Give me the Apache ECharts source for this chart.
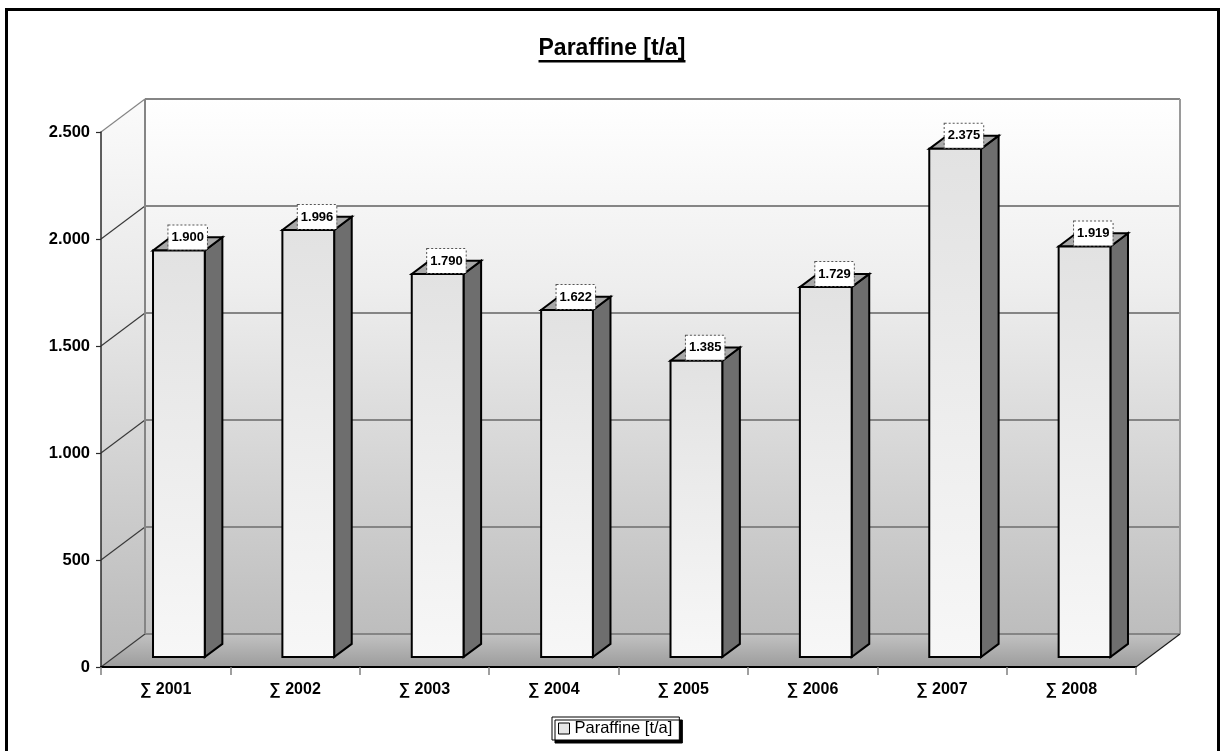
<!DOCTYPE html>
<html>
<head>
<meta charset="utf-8">
<title>Paraffine [t/a]</title>
<script src="https://cdn.jsdelivr.net/npm/echarts@6/dist/echarts.min.js"></script>
<style>
  html, body { margin: 0; padding: 0; background: #ffffff; }
  #chart { width: 1222px; height: 751px; }
</style>
</head>
<body>
<div id="chart"></div>
<script>
// ---- data ----
const chartTitle = 'Paraffine [t/a]';
const categories = ['∑ 2001', '∑ 2002', '∑ 2003', '∑ 2004', '∑ 2005', '∑ 2006', '∑ 2007', '∑ 2008'];
const values = [1900, 1996, 1790, 1622, 1385, 1729, 2375, 1919];
const yTicks = [0, 500, 1000, 1500, 2000, 2500];

// ---- styling ----
const FONT = "'Liberation Sans', Arial, Helvetica, sans-serif";
const DEPTH = [44, -33];          // on-screen offset of the back of the plot box
const BAR_FRONT = 0.3;            // bar front face, as a share of the depth
const BAR_BACK = 0.7;             // bar back face, as a share of the depth
const BAR_WIDTH = 0.4;            // bar width, as a share of the category band

// thousands separator as a dot: 2500 -> "2.500"
function fmt(v) {
  return String(v).replace(/\B(?=(\d{3})+(?!\d))/g, '.');
}

function vGrad(stops) {
  return new echarts.graphic.LinearGradient(0, 0, 0, 1,
    stops.map(function (s) { return { offset: s[0], color: s[1] }; }));
}

// back wall, side wall, floor and their gridlines
function renderWalls(params, api) {
  const band = api.size([1, 0])[0];
  const first = api.coord([0, yTicks[0]]);
  const last = api.coord([categories.length - 1, yTicks[0]]);
  const x0 = first[0] - band / 2;
  const x1 = last[0] + band / 2;
  const yb = first[1];
  const yt = api.coord([0, yTicks[yTicks.length - 1]])[1];
  const dx = DEPTH[0], dy = DEPTH[1];
  const children = [];

  children.push({
    type: 'rect',
    shape: { x: x0 + dx, y: yt + dy, width: x1 - x0, height: yb - yt },
    style: { fill: vGrad([[0, '#ffffff'], [0.35, '#eeeeee'], [1, '#bdbdbd']]) }
  });
  children.push({
    type: 'polygon',
    shape: { points: [[x0, yb], [x0, yt], [x0 + dx, yt + dy], [x0 + dx, yb + dy]] },
    style: { fill: vGrad([[0, '#fbfbfb'], [0.35, '#e8e8e8'], [1, '#b8b8b8']]) }
  });
  children.push({
    type: 'polygon',
    shape: { points: [[x0, yb], [x1, yb], [x1 + dx, yb + dy], [x0 + dx, yb + dy]] },
    style: { fill: vGrad([[0, '#c2c2c2'], [1, '#9c9c9c']]) }
  });

  yTicks.forEach(function (v) {
    const y = api.coord([0, v])[1];
    children.push({
      type: 'line',
      shape: { x1: x0 + dx, y1: y + dy, x2: x1 + dx, y2: y + dy },
      style: { stroke: '#858585', lineWidth: 2 }
    });
    children.push({
      type: 'line',
      shape: { x1: x0, y1: y, x2: x0 + dx, y2: y + dy },
      style: { stroke: v === yTicks[yTicks.length - 1] ? '#858585' : '#3a3a3a', lineWidth: 1.2 }
    });
  });

  children.push({
    type: 'line',
    shape: { x1: x0 + dx, y1: yt + dy, x2: x0 + dx, y2: yb + dy },
    style: { stroke: '#858585', lineWidth: 2 }
  });
  children.push({
    type: 'line',
    shape: { x1: x1 + dx, y1: yt + dy, x2: x1 + dx, y2: yb + dy },
    style: { stroke: '#9a9a9a', lineWidth: 2 }
  });
  children.push({
    type: 'line',
    shape: { x1: x1, y1: yb, x2: x1 + dx, y2: yb + dy },
    style: { stroke: '#1a1a1a', lineWidth: 1.2 }
  });

  return { type: 'group', children: children };
}

// one 3D column with its value box
function renderBar(params, api) {
  const i = api.value(0);
  const v = api.value(1);
  const band = api.size([1, 0])[0];
  const base = api.coord([i, 0]);
  const top = api.coord([i, v]);
  const dx = DEPTH[0], dy = DEPTH[1];
  const w = band * BAR_WIDTH;
  const fx = base[0] - w / 2 + dx * BAR_FRONT;
  const yb = base[1] + dy * BAR_FRONT;
  const yt = top[1] + dy * BAR_FRONT;
  const ddx = dx * (BAR_BACK - BAR_FRONT);
  const ddy = dy * (BAR_BACK - BAR_FRONT);
  const edge = { stroke: '#000000', lineWidth: 2, lineJoin: 'miter' };

  return {
    type: 'group',
    children: [
      {
        type: 'polygon',
        shape: { points: [[fx + w, yt], [fx + w + ddx, yt + ddy], [fx + w + ddx, yb + ddy], [fx + w, yb]] },
        style: Object.assign({ fill: '#6e6e6e' }, edge)
      },
      {
        type: 'polygon',
        shape: { points: [[fx, yt], [fx + ddx, yt + ddy], [fx + w + ddx, yt + ddy], [fx + w, yt]] },
        style: Object.assign({ fill: '#a8a8a8' }, edge)
      },
      {
        type: 'rect',
        shape: { x: fx, y: yt, width: w, height: yb - yt },
        style: Object.assign({ fill: vGrad([[0, '#e2e2e2'], [1, '#f7f7f7']]) }, edge)
      },
      {
        type: 'text',
        x: fx + w / 2 + ddx / 2,
        y: yt - 13,
        z2: 10,
        style: {
          text: fmt(v),
          font: 'bold 13px ' + FONT,
          fill: '#000000',
          align: 'center',
          verticalAlign: 'middle',
          backgroundColor: '#ffffff',
          borderColor: '#555555',
          borderWidth: 1,
          borderDash: [2, 2],
          padding: [6, 3, 5, 3]
        }
      }
    ]
  };
}

const chart = echarts.init(document.getElementById('chart'), null, { renderer: 'canvas' });

// underline width follows the rendered title text
const TITLE_FONT = 'bold 23px ' + FONT;
const measureCtx = document.createElement('canvas').getContext('2d');
measureCtx.font = TITLE_FONT;
const titleWidth = measureCtx.measureText(chartTitle).width;
const titleX = 612;

chart.setOption({
  animation: false,
  backgroundColor: '#ffffff',
  grid: { left: 101, right: 86, top: 132, bottom: 84, outerBoundsMode: 'none' },
  legend: {
    data: [{ name: chartTitle, icon: 'rect', itemStyle: { color: '#e6e6e6', borderColor: '#000000', borderWidth: 1 } }],
    left: 552,
    top: 717,
    itemWidth: 11,
    itemHeight: 11,
    padding: [3, 7, 3, 6],
    backgroundColor: '#ffffff',
    borderColor: '#000000',
    borderWidth: 1,
    borderRadius: 0,
    shadowColor: '#000000',
    shadowOffsetX: 3,
    shadowOffsetY: 3,
    shadowBlur: 0,
    textStyle: { fontSize: 16.5, fontFamily: FONT, color: '#000000' },
    selectedMode: false
  },
  xAxis: {
    type: 'category',
    data: categories,
    boundaryGap: true,
    z: 10,
    axisLine: { show: true, lineStyle: { color: '#000000', width: 2 } },
    axisTick: { show: true, length: 8, lineStyle: { color: '#808080', width: 1.5 } },
    axisLabel: { interval: 0, margin: 15, fontSize: 16, fontWeight: 'bold', fontFamily: FONT, color: '#000000' },
    splitLine: { show: false }
  },
  yAxis: {
    type: 'value',
    min: yTicks[0],
    max: yTicks[yTicks.length - 1],
    interval: yTicks[1] - yTicks[0],
    z: 10,
    axisLine: { show: true, lineStyle: { color: '#2a2a2a', width: 1.5 } },
    axisTick: { show: true, length: 5, lineStyle: { color: '#2a2a2a', width: 1.2 } },
    axisLabel: { margin: 11, fontSize: 16.5, fontWeight: 'bold', fontFamily: FONT, color: '#000000', formatter: fmt },
    splitLine: { show: false }
  },
  series: [
    {
      name: 'walls',
      type: 'custom',
      z: 1,
      silent: true,
      clip: false,
      renderItem: renderWalls,
      data: [[0, 0]],
      encode: { x: 0, y: 1 }
    },
    {
      name: chartTitle,
      type: 'custom',
      z: 3,
      clip: false,
      itemStyle: { color: '#e6e6e6' },
      renderItem: renderBar,
      data: values.map(function (v, i) { return [i, v]; }),
      encode: { x: 0, y: 1 }
    }
  ],
  graphic: [
    {
      type: 'rect',
      z: 100,
      silent: true,
      shape: { x: 6.5, y: 9.5, width: 1212, height: 800 },
      style: { fill: null, stroke: '#000000', lineWidth: 3 }
    },
    {
      type: 'text',
      x: titleX,
      y: 49,
      style: { text: chartTitle, font: TITLE_FONT, fill: '#000000', align: 'center', verticalAlign: 'middle' }
    },
    {
      type: 'rect',
      shape: { x: titleX - titleWidth / 2, y: 60, width: titleWidth, height: 2.5 },
      style: { fill: '#000000' }
    }
  ]
});
</script>
</body>
</html>
